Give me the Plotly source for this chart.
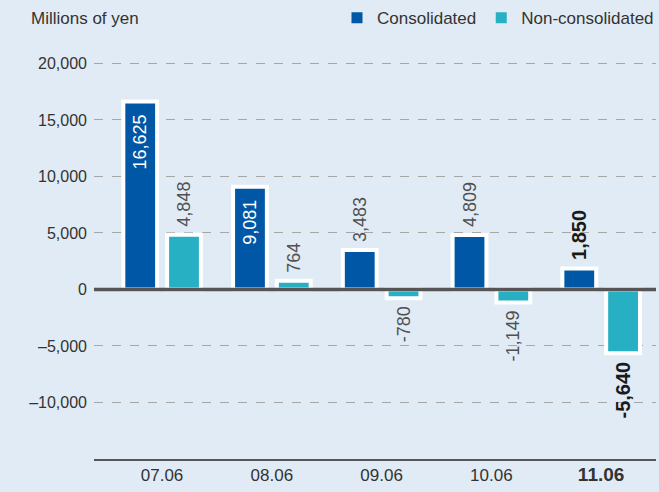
import plotly.graph_objects as go

categories = ['07.06', '08.06', '09.06', '10.06', '11.06']
consolidated = [16625, 9081, 3483, 4809, 1850]
non_consolidated = [4848, 764, -780, -1149, -5640]

tick_vals = [-10000, -5000, 0, 5000, 10000, 15000, 20000]
tick_text = ['\u201310,000', '\u20135,000', '0', '5,000', '10,000', '15,000', '20,000']

blue = '#0057a6'
teal = '#27afc4'
bg = '#e1ebf5'
font = 'Liberation Sans, Arial, sans-serif'
NB = '\u00a0'


def fmt(v, bold, pad_before='', pad_after=''):
    s = '{:,}'.format(v)
    if bold:
        s = '<b>' + s + '</b>'
    return pad_before + s + pad_after


last = len(categories) - 1
# big bars carry their label inside, the rest outside
cons_in = [v > 8000 for v in consolidated]
cons_text = [fmt(v, i == last, pad_after=NB * 2) if cons_in[i]
             else fmt(v, i == last, pad_before=NB)
             for i, v in enumerate(consolidated)]
non_text = [fmt(v, i == last, pad_before=NB) if v >= 0
            else fmt(v, i == last, pad_after=NB)
            for i, v in enumerate(non_consolidated)]

cons_pos = ['inside' if f else 'outside' for f in cons_in]
cons_col = ['white' if cons_in[i] else ('#1a1a1a' if i == last else '#505050')
            for i in range(len(categories))]
non_col = ['#1a1a1a' if i == last else '#505050' for i in range(len(categories))]
sizes = [20 if i == last else 18 for i in range(len(categories))]

bar_w = 0.308

fig = go.Figure()
fig.add_trace(go.Bar(
    x=categories, y=consolidated, name='Consolidated',
    width=bar_w, offset=-0.353,
    marker=dict(color=blue, line=dict(color='white', width=4)),
    text=cons_text, textposition=cons_pos, textangle=-90,
    insidetextanchor='end', constraintext='none', cliponaxis=False,
    textfont=dict(size=sizes, color=cons_col, family=font),
    showlegend=False
))
fig.add_trace(go.Bar(
    x=categories, y=non_consolidated, name='Non-consolidated',
    width=bar_w, offset=0.046,
    marker=dict(color=teal, line=dict(color='white', width=4)),
    text=non_text, textposition='outside', textangle=-90,
    constraintext='none', cliponaxis=False,
    textfont=dict(size=sizes, color=non_col, family=font),
    showlegend=False
))

# legend entries as plain squares
for name, col in [('Consolidated', blue), ('Non-consolidated', teal)]:
    fig.add_trace(go.Scatter(
        x=[None], y=[None], mode='markers', name=name,
        marker=dict(symbol='square', size=11, color=col)
    ))

fig.add_shape(type='line', xref='paper', x0=0, x1=1, yref='y', y0=0, y1=0,
              line=dict(color='#555555', width=3.5), layer='above')

fig.add_annotation(text='Millions of yen', xref='paper', yref='paper',
                   x=-0.116, y=1.105, xanchor='left', yanchor='middle',
                   showarrow=False, font=dict(size=17, color='#333333', family=font))

xt = categories[:-1] + ['<span style="font-size:19px"><b>' + categories[-1] + '</b></span>']

fig.update_layout(
    width=659, height=492,
    margin=dict(l=94, r=3, t=60, b=33, autoexpand=False),
    paper_bgcolor=bg, plot_bgcolor=bg,
    font=dict(family=font, size=16, color='#333333'),
    barmode='group',
    legend=dict(orientation='h', xref='container', yref='container',
                x=1.0, xanchor='right', y=0.963, yanchor='middle',
                bgcolor='rgba(0,0,0,0)', font=dict(size=17, color='#333333'),
                itemwidth=30, tracegroupgap=0),
    xaxis=dict(
        range=[-0.62, 4.5], tickvals=categories, ticktext=xt,
        showgrid=False, showline=True, linecolor='#555555', linewidth=1.5,
        ticks='', tickfont=dict(size=17, color='#333333')
    ),
    yaxis=dict(
        range=[-15000, 20300], tickvals=tick_vals, ticktext=tick_text,
        showgrid=True, gridcolor='#a6a6a6', griddash='dash', gridwidth=1,
        zeroline=False, showline=False, ticks='',
        ticklabelstandoff=6, tickfont=dict(size=16, color='#333333')
    )
)

fig.write_html("out.html", config={'displayModeBar': False},
               post_script="document.body.style.margin='0';"
                           "document.body.style.background='" + bg + "';")
